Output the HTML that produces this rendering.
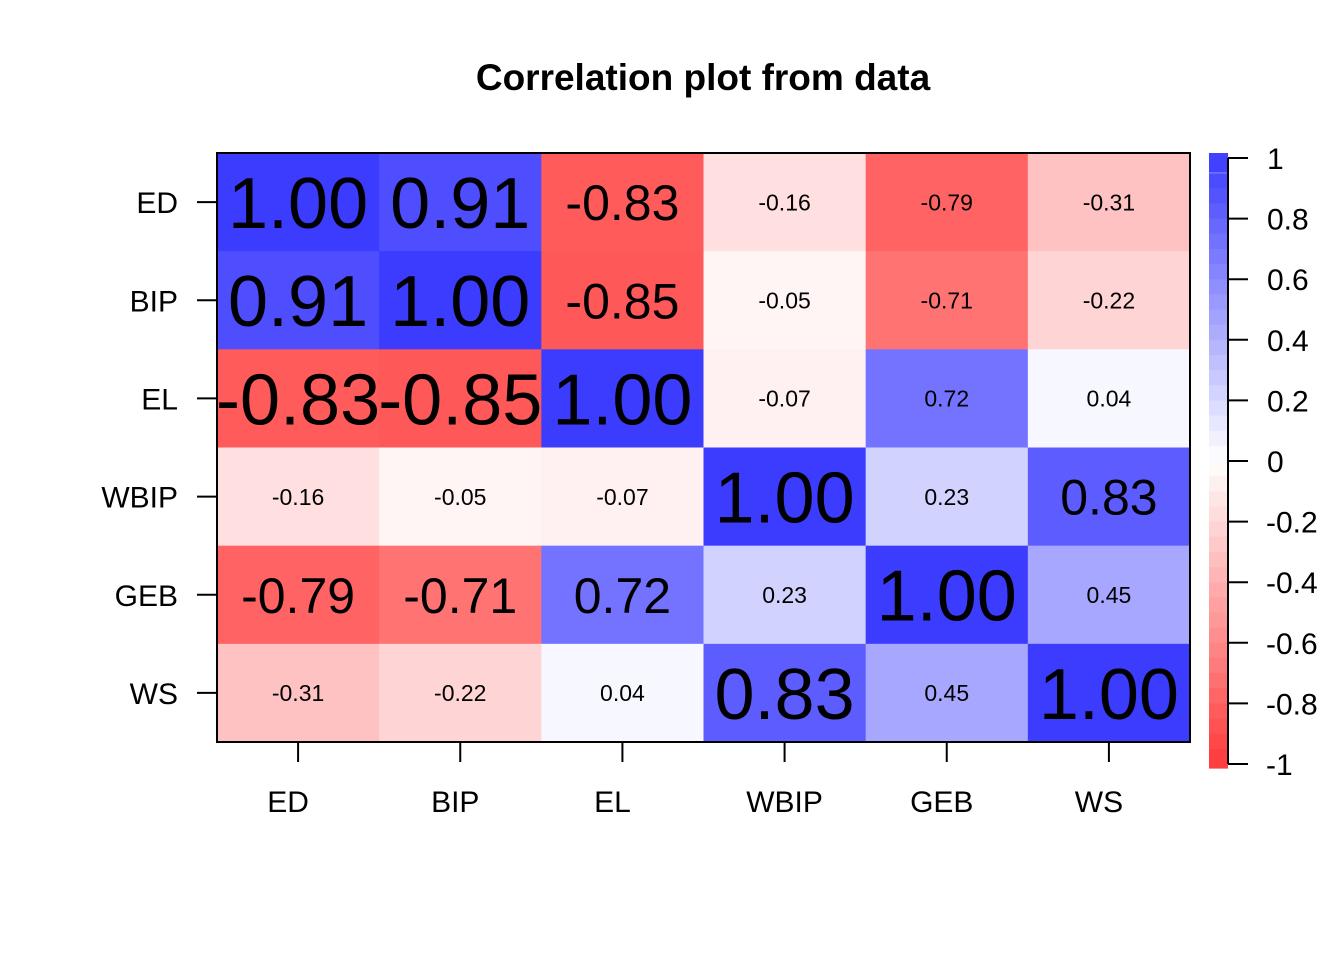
<!DOCTYPE html>
<html><head><meta charset="utf-8"><style>
body{margin:0;background:#fff;}
svg{display:block;font-family:"Liberation Sans",Arial,sans-serif;}
</style></head><body>
<svg id="chart" width="1344" height="960">
<text x="703" y="90" text-anchor="middle" font-size="37" font-weight="bold">Correlation plot from data</text>
<g id="cells"></g>
<rect x="217" y="153" width="973" height="589" fill="none" stroke="#000" stroke-width="2"/>
<g id="axes"></g>
<g id="legend"></g>
</svg>
<script>
const vars = ["ED","BIP","EL","WBIP","GEB","WS"];
const corr = [
 [1.00,0.91,-0.83,-0.16,-0.79,-0.31],
 [0.91,1.00,-0.85,-0.05,-0.71,-0.22],
 [-0.83,-0.85,1.00,-0.07,0.72,0.04],
 [-0.16,-0.05,-0.07,1.00,0.23,0.83],
 [-0.79,-0.71,0.72,0.23,1.00,0.45],
 [-0.31,-0.22,0.04,0.83,0.45,1.00]
];
const legendTicks = [1,0.8,0.6,0.4,0.2,0,-0.2,-0.4,-0.6,-0.8,-1];
const sizeClass = [
 [3,3,2,0,0,0],[3,3,2,0,0,0],[3,3,3,0,0,0],
 [0,0,0,3,0,2],[2,2,2,0,3,0],[0,0,0,3,0,3]
];
const fontSizes=[23,40,50,72];
const xLabelShift=[-10,-5,-10,0,-5,-10];
const NS="http://www.w3.org/2000/svg";
const X0=217,Y0=153,W=973,H=589,n=vars.length,cw=W/n,ch=H/n;
function color(v){
  if(v>=0){const t=v;return `rgb(${Math.round(255-t*195)},${Math.round(255-t*195)},255)`;}
  const t=-v;return `rgb(255,${Math.round(255-t*197)},${Math.round(255-t*197)})`;
}
function xs(j){return X0+j*cw;}
function ys(i){return Y0+i*ch;}
const cells=document.getElementById('cells');
for(let i=0;i<n;i++)for(let j=0;j<n;j++){
  const v=corr[i][j];
  const r=document.createElementNS(NS,'rect');
  r.setAttribute('x',xs(j));r.setAttribute('y',ys(i));
  r.setAttribute('width',cw+0.5);r.setAttribute('height',ch+0.5);
  r.setAttribute('fill',color(v));
  
  
  cells.appendChild(r);
  const t=document.createElementNS(NS,'text');
  const fs=fontSizes[sizeClass[i][j]];
  t.setAttribute('x',xs(j)+cw/2);t.setAttribute('y',ys(i)+ch/2+fs*0.36);
  t.setAttribute('text-anchor','middle');t.setAttribute('font-size',fs);
  t.textContent=v.toFixed(2);
  
  
  cells.appendChild(t);
}
const axes=document.getElementById('axes');
vars.forEach((v,i)=>{
  const y=ys(i)+ch/2;
  const l=document.createElementNS(NS,'line');
  l.setAttribute('x1',197);l.setAttribute('x2',217);l.setAttribute('y1',y);l.setAttribute('y2',y);l.setAttribute('stroke','#000');l.setAttribute('stroke-width',2);
  
  
  axes.appendChild(l);
  const t=document.createElementNS(NS,'text');
  t.setAttribute('x',178);t.setAttribute('y',y+11);t.setAttribute('text-anchor','end');t.setAttribute('font-size',30);t.textContent=v;
  
  
  axes.appendChild(t);
  const x=xs(i)+cw/2;
  const l2=document.createElementNS(NS,'line');
  l2.setAttribute('x1',x);l2.setAttribute('x2',x);l2.setAttribute('y1',742);l2.setAttribute('y2',762);l2.setAttribute('stroke','#000');l2.setAttribute('stroke-width',2);
  
  
  axes.appendChild(l2);
  const t2=document.createElementNS(NS,'text');
  t2.setAttribute('x',x+xLabelShift[i]);t2.setAttribute('y',812);t2.setAttribute('text-anchor','middle');t2.setAttribute('font-size',30);t2.textContent=v;
  
  
  axes.appendChild(t2);
});
const lg=document.getElementById('legend');
const LY0=158,LY1=764,LX=1209,LW=19;
function ly(v){return LY0+(1-v)/2*(LY1-LY0);}
const steps=40;
for(let k=0;k<steps;k++){
  const v0=1-k*2/steps,v1=v0-2/steps;
  const r=document.createElementNS(NS,'rect');
  r.setAttribute('x',LX);r.setAttribute('y',ly(v0)-(k==0?5:0));r.setAttribute('width',LW);
  r.setAttribute('height',ly(v1)-ly(v0)+0.6+(k==0||k==steps-1?4:0));
  r.setAttribute('fill',color((v0+v1)/2));
  
  
  lg.appendChild(r);
}
const ax=document.createElementNS(NS,'line');
ax.setAttribute('x1',LX+LW);ax.setAttribute('x2',LX+LW);ax.setAttribute('y1',ly(1));ax.setAttribute('y2',ly(-1));ax.setAttribute('stroke','#000');ax.setAttribute('stroke-width',2);


lg.appendChild(ax);
legendTicks.forEach(v=>{
  const y=ly(v);
  const l=document.createElementNS(NS,'line');
  l.setAttribute('x1',LX+LW);l.setAttribute('x2',LX+LW+20);l.setAttribute('y1',y);l.setAttribute('y2',y);l.setAttribute('stroke','#000');l.setAttribute('stroke-width',2);
  
  
  lg.appendChild(l);
  const t=document.createElementNS(NS,'text');
  t.setAttribute('x',v<0?1266:1267);t.setAttribute('y',y+11);t.setAttribute('font-size',30);t.textContent=String(v);
  
  
  lg.appendChild(t);
});
</script>
</body></html>
